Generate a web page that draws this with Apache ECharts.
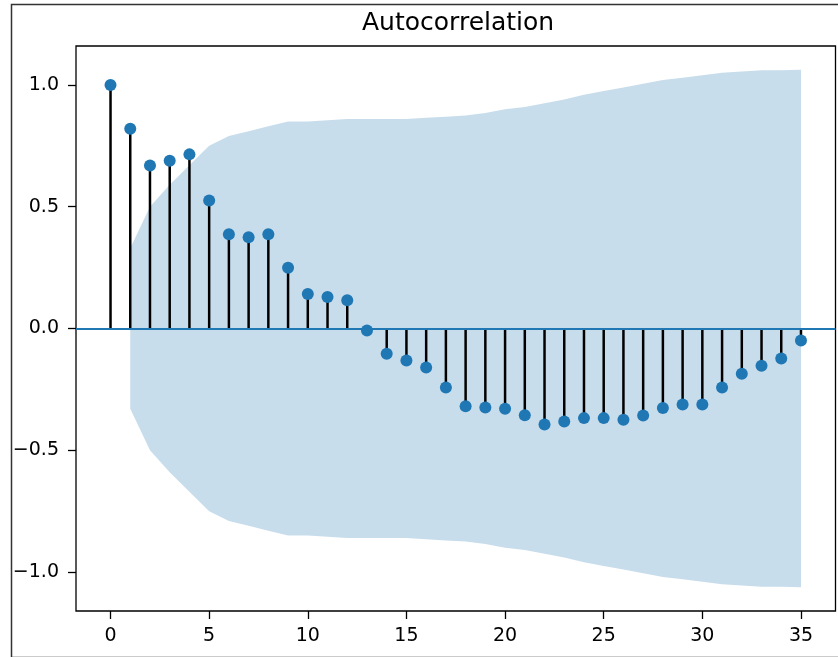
<!DOCTYPE html>
<html>
<head>
<meta charset="utf-8">
<script src="https://cdn.jsdelivr.net/npm/echarts@6/dist/echarts.min.js"></script>
<style>
html,body{margin:0;padding:0;background:#fff;}
#chart{width:838px;height:657px;}
</style>
</head>
<body>
<div id="chart"></div>
<script>
// Lags and autocorrelation values
const lags = [0,1,2,3,4,5,6,7,8,9,10,11,12,13,14,15,16,17,18,19,20,21,22,23,24,25,26,27,28,29,30,31,32,33,34,35];
const acf = [1.0, 0.820, 0.669, 0.689, 0.715, 0.526, 0.387, 0.375, 0.387, 0.249, 0.142, 0.129, 0.116, -0.008,
  -0.104, -0.131, -0.160, -0.242, -0.319, -0.324, -0.330, -0.356, -0.394, -0.382, -0.368, -0.368,
  -0.375, -0.357, -0.326, -0.312, -0.312, -0.242, -0.186, -0.153, -0.123, -0.049];
// Confidence band half-width for lags 1..35
const bandLags = [1,2,3,4,5,6,7,8,9,10,11,12,13,14,15,16,17,18,19,20,21,22,23,24,25,26,27,28,29,30,31,32,33,34,35];
const bandHalf = [0.33, 0.50, 0.59, 0.67, 0.75, 0.79, 0.81, 0.83, 0.85, 0.85, 0.855, 0.86, 0.86, 0.86, 0.86,
  0.865, 0.87, 0.875, 0.885, 0.90, 0.91, 0.925, 0.94, 0.96, 0.975, 0.99, 1.005, 1.02, 1.03, 1.04,
  1.05, 1.055, 1.06, 1.06, 1.062];
// Tick labels
const xTicks = [0, 5, 10, 15, 20, 25, 30, 35];
const yTicks = [-1.0, -0.5, 0.0, 0.5, 1.0];
const xMin = -1.75, xMax = 36.75;
const yMin = -1.16, yMax = 1.16;

const C0 = '#1f77b4';
const BAND = '#c7ddec';
const FONT = 'DejaVu Sans';

const chart = echarts.init(document.getElementById('chart'), null, {renderer: 'canvas'});

const upperData = bandLags.map((l, i) => [l, bandHalf[i]]);
const lowerData = bandLags.map((l, i) => [l, -bandHalf[i]]);
const pts = lags.map((l, i) => [l, acf[i]]);

const option = {
  animation: false,
  backgroundColor: '#fff',
  title: {
    text: 'Autocorrelation',
    left: 357,
    top: 6,
    textStyle: {fontFamily: FONT, fontSize: 25, fontWeight: 'normal', color: '#000'}
  },
  graphic: [{
    type: 'rect',
    left: 9, top: 2,
    shape: {width: 850, height: 653},
    style: {fill: 'none', stroke: '#333', lineWidth: 1.5},
    z: -10, silent: true
  }],
  grid: {
    left: 76, right: 2.5, top: 46, bottom: 46,
    show: true, borderColor: '#000', borderWidth: 1.3, backgroundColor: 'transparent'
  },
  xAxis: {
    type: 'value', min: xMin, max: xMax,
    splitLine: {show: false},
    axisLine: {show: false, onZero: false},
    axisTick: {show: true, customValues: xTicks, length: 8, inside: false, lineStyle: {color: '#000', width: 1.3}},
    axisLabel: {customValues: xTicks, fontFamily: FONT, fontSize: 19, color: '#000', margin: 16,
      formatter: v => String(v)}
  },
  yAxis: {
    type: 'value', min: yMin, max: yMax,
    splitLine: {show: false},
    axisLine: {show: false, onZero: false},
    axisTick: {show: true, customValues: yTicks, length: 8, inside: false, lineStyle: {color: '#000', width: 1.3}},
    axisLabel: {customValues: yTicks, fontFamily: FONT, fontSize: 19, color: '#000', margin: 17,
      formatter: v => (v < 0 ? '\u2212' : '') + Math.abs(v).toFixed(1)}
  },
  series: [
    {
      type: 'line', data: upperData,
      symbol: 'none', lineStyle: {opacity: 0, width: 0},
      areaStyle: {color: BAND, opacity: 1, origin: 0}, z: 1, silent: true
    },
    {
      type: 'line', data: lowerData,
      symbol: 'none', lineStyle: {opacity: 0, width: 0},
      areaStyle: {color: BAND, opacity: 1, origin: 0}, z: 1, silent: true
    },
    {
      type: 'custom', data: pts, z: 3, silent: true,
      encode: {x: 0, y: 1},
      renderItem: function (params, api) {
        const x = api.value(0), y = api.value(1);
        const p0 = api.coord([x, 0]);
        const p1 = api.coord([x, y]);
        return {type: 'line', shape: {x1: p0[0], y1: p0[1], x2: p1[0], y2: p1[1]},
          style: {stroke: '#000', lineWidth: 2.5}};
      },
      markLine: {
        silent: true, symbol: 'none', z: 4,
        label: {show: false},
        lineStyle: {color: C0, width: 2.2, type: 'solid'},
        data: [{yAxis: 0}]
      }
    },
    {
      type: 'scatter', data: pts, symbol: 'circle', symbolSize: 12,
      itemStyle: {color: C0, opacity: 1}, z: 10, silent: true
    }
  ]
};
chart.setOption(option);
</script>
</body>
</html>
